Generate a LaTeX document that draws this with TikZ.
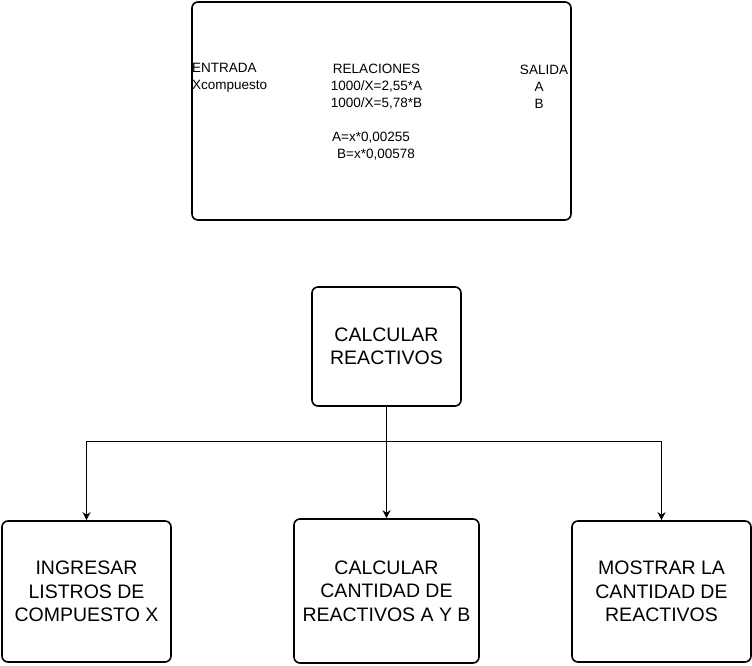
\documentclass[tikz,border=0pt]{standalone}
\usepackage{fontspec}
\setmainfont{Liberation Sans}
\usetikzlibrary{shapes, arrows, arrows.meta}
\tikzstyle{panel} = [rectangle, rounded corners=6pt, minimum width=379pt, minimum height=218pt, draw=black, line width=1.6pt]
\tikzstyle{process} = [rectangle, rounded corners=6pt, draw=black, line width=1.6pt, text centered, align=center, inner sep=0pt, font=\fontsize{19.5}{23.5}\selectfont]
\tikzstyle{small} = [inner sep=0pt, font=\fontsize{13.5}{17}\selectfont]
\tikzstyle{arrow} = [line width=0.9pt,-{Stealth[length=8pt,width=8pt,inset=2.5pt]}]

\begin{document}
\begin{tikzpicture}[x=1pt, y=-1pt]
    \useasboundingbox (0,0) rectangle (752,665);
    \node (relbox) [panel] at (381.5,111) {};
    \node (entrada) [small, anchor=west, align=left] at (192,78) {ENTRADA\\Xcompuesto};
    \node (relaciones) [small, align=center] at (376.5,86.5) {RELACIONES\\1000/X=2,55*A\\1000/X=5,78*B};
    \node (formulas) [small, anchor=west, align=left] at (332,146.5) {A=x*0,00255\\\hspace{5pt}B=x*0,00578};
    \node (salida) [small, align=center] at (544,86.5) {SALIDA\\\hbox{A\kern10pt}\\\hbox{B\kern10pt}};

    \node (calc) [process, minimum width=149pt, minimum height=119pt] at (386.5,346.5) {CALCULAR\\REACTIVOS};
    \node (ingresar) [process, minimum width=169pt, minimum height=141pt] at (86.5,591.5) {INGRESAR\\LISTROS DE\\COMPUESTO X};
    \node (cantidad) [process, minimum width=185pt, minimum height=144pt] at (386.5,591) {CALCULAR\\CANTIDAD DE\\REACTIVOS A Y B};
    \node (mostrar) [process, minimum width=179pt, minimum height=141pt] at (661.5,591.5) {MOSTRAR LA\\CANTIDAD DE\\REACTIVOS};

    \draw [line width=0.9pt] (calc.south) -- ++(0,35) coordinate (split);
    \draw [arrow] (split) -| (ingresar.north);
    \draw [arrow] (split) -- (cantidad.north);
    \draw [arrow] (split) -| (mostrar.north);
  \end{tikzpicture}
\end{document}
